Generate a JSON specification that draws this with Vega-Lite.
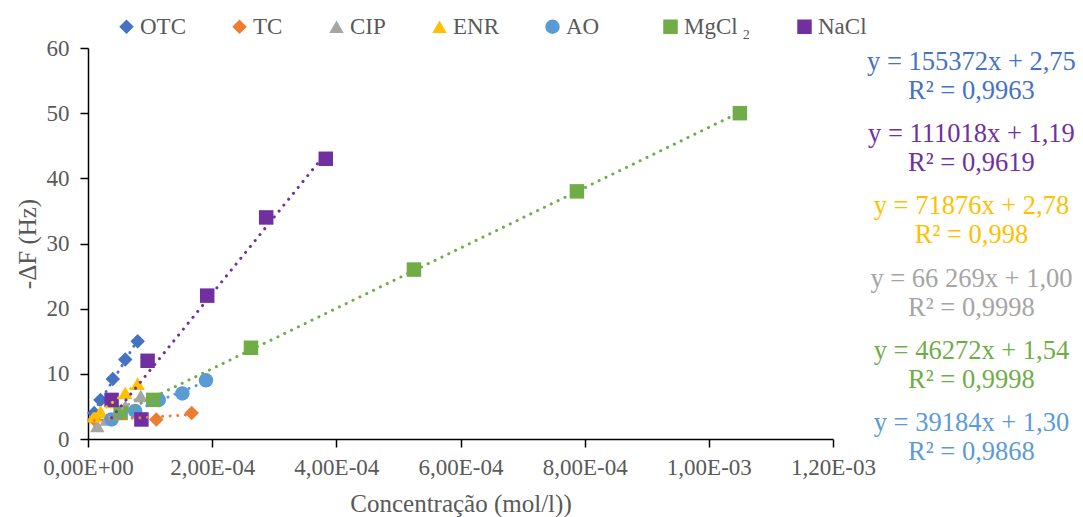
{
  "$schema": "https://vega.github.io/schema/vega-lite/v6.json",
  "width": 745,
  "height": 391,
  "autosize": {"type": "none"},
  "padding": {"left": 88, "top": 48, "right": 250, "bottom": 78},
  "background": "white",
  "config": {
    "view": {"stroke": null},
    "font": "Liberation Serif",
    "axis": {
      "grid": false, "domainColor": "black", "tickColor": "black", "domainWidth": 1.5, "tickWidth": 1.5, "tickSize": 8,
      "labelColor": "#595959", "titleColor": "#595959", "labelFontSize": 23, "titleFontSize": 25, "titleFontWeight": "normal",
      "labelFont": "Liberation Serif", "titleFont": "Liberation Serif"
    },
    "legend": {"labelFont": "Liberation Serif", "labelFontSize": 23, "labelColor": "#595959"}
  },
  "datasets": {
    "pts": [
      {"series": "OTC", "conc": 0.00001, "dF": 4.0},
      {"series": "OTC", "conc": 0.00002, "dF": 6.0},
      {"series": "OTC", "conc": 0.00004, "dF": 9.2},
      {"series": "OTC", "conc": 0.00006, "dF": 12.2},
      {"series": "OTC", "conc": 0.00008, "dF": 15.0},
      {"series": "TC", "conc": 0.00001, "dF": 3.0},
      {"series": "TC", "conc": 0.00011, "dF": 3.0},
      {"series": "TC", "conc": 0.000167, "dF": 4.0},
      {"series": "CIP", "conc": 0.000015, "dF": 2.0},
      {"series": "CIP", "conc": 0.00003, "dF": 3.0},
      {"series": "CIP", "conc": 0.00006, "dF": 5.0},
      {"series": "CIP", "conc": 0.000085, "dF": 6.6},
      {"series": "ENR", "conc": 0.00001, "dF": 3.5},
      {"series": "ENR", "conc": 0.00002, "dF": 4.2},
      {"series": "ENR", "conc": 0.00004, "dF": 5.7},
      {"series": "ENR", "conc": 0.00006, "dF": 7.1},
      {"series": "ENR", "conc": 0.00008, "dF": 8.5},
      {"series": "AO", "conc": 0.000038, "dF": 3.0},
      {"series": "AO", "conc": 0.000076, "dF": 4.3},
      {"series": "AO", "conc": 0.000114, "dF": 6.0},
      {"series": "AO", "conc": 0.000152, "dF": 7.0},
      {"series": "AO", "conc": 0.00019, "dF": 9.0},
      {"series": "MgCl\u2009₂", "conc": 0.0000525, "dF": 4.0},
      {"series": "MgCl\u2009₂", "conc": 0.000105, "dF": 6.0},
      {"series": "MgCl\u2009₂", "conc": 0.0002625, "dF": 14.0},
      {"series": "MgCl\u2009₂", "conc": 0.000525, "dF": 26.0},
      {"series": "MgCl\u2009₂", "conc": 0.0007875, "dF": 38.0},
      {"series": "MgCl\u2009₂", "conc": 0.00105, "dF": 50.0},
      {"series": "NaCl", "conc": 0.000038, "dF": 6.0},
      {"series": "NaCl", "conc": 0.000086, "dF": 3.0},
      {"series": "NaCl", "conc": 0.000096, "dF": 12.0},
      {"series": "NaCl", "conc": 0.000192, "dF": 22.0},
      {"series": "NaCl", "conc": 0.000287, "dF": 34.0},
      {"series": "NaCl", "conc": 0.000383, "dF": 43.0}
    ],
    "eqs": [
      {"series": "OTC", "eq": "y = 155372x + 2,75\nR² = 0,9963"},
      {"series": "NaCl", "eq": "y = 111018x + 1,19\nR² = 0,9619"},
      {"series": "ENR", "eq": "y = 71876x + 2,78\nR² = 0,998"},
      {"series": "CIP", "eq": "y = 66 269x + 1,00\nR² = 0,9998"},
      {"series": "MgCl\u2009₂", "eq": "y = 46272x + 1,54\nR² = 0,9998"},
      {"series": "AO", "eq": "y = 39184x + 1,30\nR² = 0,9868"}
    ]
  },
  "layer": [
    {
      "layer": [
        {
          "data": {"name": "pts"},
          "mark": {"type": "point", "filled": true, "opacity": 1},
          "encoding": {
            "x": {
              "field": "conc", "type": "quantitative",
              "scale": {"domain": [0, 0.0012], "nice": false},
              "axis": {
                "values": [0, 0.0002, 0.0004, 0.0006, 0.0008, 0.001, 0.0012],
                "labelExpr": "replace(replace(slice(format(datum.value,'.2e'),0,-1),'.',','),'e','E') + '0' + slice(format(datum.value,'.2e'),-1)",
                "title": "Concentração (mol/l))", "labelPadding": 9, "titlePadding": 12, "labelFlush": false
              }
            },
            "y": {
              "field": "dF", "type": "quantitative",
              "scale": {"domain": [0, 60], "nice": false},
              "axis": {"values": [0, 10, 20, 30, 40, 50, 60], "title": "-ΔF (Hz)", "labelPadding": 11, "titlePadding": 6}
            },
            "size": {
              "field": "series", "type": "nominal",
              "scale": {
                "domain": ["OTC", "TC", "CIP", "ENR", "AO", "MgCl\u2009₂", "NaCl"],
                "range": [210, 210, 300, 300, 230, 220, 220]
              },
              "legend": null
            },
            "color": {
              "field": "series", "type": "nominal",
              "scale": {
                "domain": ["OTC", "TC", "CIP", "ENR", "AO", "MgCl\u2009₂", "NaCl"],
                "range": ["#4472C4", "#ED7D31", "#A5A5A5", "#FFC000", "#5B9BD5", "#70AD47", "#7030A0"]
              },
              "legend": {
                "title": null, "orient": "none", "direction": "horizontal", "legendX": 27, "legendY": -33,
                "symbolSize": 150, "labelOffset": 2, "columnPadding": 42, "symbolStrokeWidth": 0,
                "labelExpr": "datum.label == 'AO' ? 'AO\u2800' : datum.label"
              }
            },
            "shape": {
              "field": "series", "type": "nominal",
              "scale": {
                "domain": ["OTC", "TC", "CIP", "ENR", "AO", "MgCl\u2009₂", "NaCl"],
                "range": ["diamond", "diamond", "triangle-up", "triangle-up", "circle", "square", "square"]
              },
              "legend": {
                "title": null, "orient": "none", "direction": "horizontal", "legendX": 27, "legendY": -33,
                "symbolSize": 150, "labelOffset": 2, "columnPadding": 42, "symbolStrokeWidth": 0,
                "labelExpr": "datum.label == 'AO' ? 'AO\u2800' : datum.label"
              }
            }
          }
        },
        {
          "data": {"name": "pts"},
          "transform": [{"regression": "dF", "on": "conc", "groupby": ["series"]}],
          "mark": {"type": "line", "strokeDash": [0.1, 7.5], "strokeCap": "round", "strokeWidth": 3},
          "encoding": {
            "x": {"field": "conc", "type": "quantitative"},
            "y": {"field": "dF", "type": "quantitative"},
            "color": {"field": "series", "type": "nominal"}
          }
        }
      ]
    },
    {
      "data": {"name": "eqs"},
      "mark": {"type": "text", "lineBreak": "\n", "fontSize": 26.5, "lineHeight": 29, "align": "center", "baseline": "middle", "font": "Liberation Serif"},
      "encoding": {
        "x": {"datum": 0.001423, "type": "quantitative"},
        "y": {
          "field": "series", "type": "nominal",
          "sort": ["OTC", "NaCl", "ENR", "CIP", "MgCl\u2009₂", "AO"],
          "scale": {"type": "point", "range": [14, 375], "padding": 0},
          "axis": null
        },
        "text": {"field": "eq"},
        "color": {"field": "series", "type": "nominal", "legend": null}
      }
    }
  ],
  "resolve": {"scale": {"y": "independent"}}
}
